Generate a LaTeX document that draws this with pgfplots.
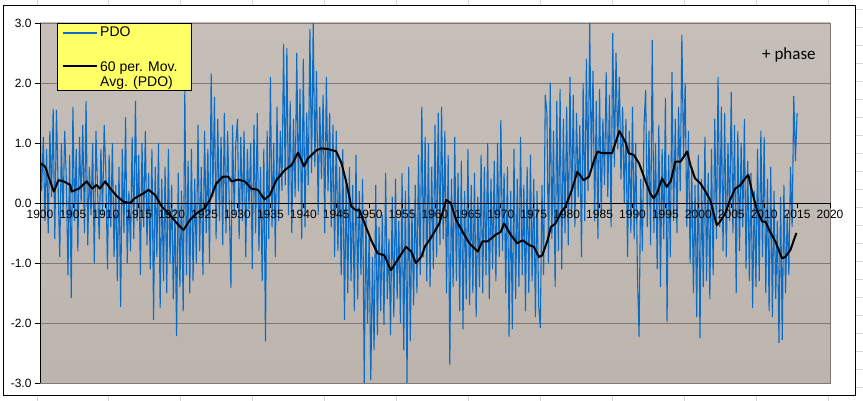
\documentclass[border=0pt]{standalone}
\usepackage{pgfplots}
\pgfplotsset{compat=1.18}
\usepackage{pgfplotstable}
\usepackage{fontspec}
\setmainfont{Liberation Sans}
\newfontfamily\calibri{Carlito}

\definecolor{pdoblue}{RGB}{10,108,196}
\definecolor{bgtop}{RGB}{198,191,185}
\definecolor{bgbot}{RGB}{188,180,173}
\definecolor{gridgray}{RGB}{128,122,117}
\definecolor{cellgray}{RGB}{215,215,215}
\definecolor{legyellow}{RGB}{255,255,102}

% PDO, one value per quarter from 1900.0 (four per line = one year)
\pgfplotstableread[row sep=\\]{
v\\
1.3\\ 0.2\\ 1.1\\ -0.3\\
0.9\\ -0.5\\ 1.2\\ 0.1\\
1.57\\ -0.6\\ 1.55\\ 0.3\\
-0.9\\ 1.0\\ -0.2\\ 1.2\\
0.4\\ -1.2\\ 0.8\\ -1.58\\
1.6\\ -0.3\\ 0.9\\ -0.8\\
1.1\\ 0.0\\ 1.3\\ -0.5\\
1.7\\ -0.7\\ 0.6\\ -0.2\\
1.0\\ -1.0\\ 1.2\\ 0.2\\
-0.6\\ 0.9\\ -0.2\\ 1.3\\
0.5\\ -1.1\\ 0.8\\ -0.4\\
1.0\\ -0.9\\ 0.3\\ -1.3\\
0.6\\ -1.73\\ 0.9\\ -0.5\\
1.43\\ -1.0\\ 0.2\\ -0.8\\
1.1\\ -0.6\\ 1.7\\ -0.3\\
0.8\\ -1.2\\ 1.0\\ -0.4\\
1.2\\ -0.7\\ 0.5\\ -1.1\\
0.9\\ -1.95\\ 0.6\\ -0.9\\
1.0\\ -1.75\\ 0.4\\ -1.3\\
0.6\\ -1.5\\ 0.9\\ -1.0\\
0.3\\ -1.6\\ -0.1\\ -2.22\\
0.5\\ -1.4\\ 0.2\\ -1.8\\
1.88\\ -1.2\\ 0.7\\ -1.5\\
0.9\\ -1.3\\ 0.4\\ -1.0\\
1.3\\ -0.8\\ 0.6\\ -1.2\\
1.2\\ -0.5\\ 0.9\\ -1.0\\
2.16\\ 0.1\\ 1.77\\ -0.6\\
1.4\\ -0.3\\ 1.1\\ -0.7\\
1.5\\ -0.5\\ 1.2\\ 0.0\\
-1.42\\ 1.3\\ -0.2\\ 1.0\\
1.4\\ -0.6\\ 1.1\\ -0.3\\
1.2\\ -0.9\\ 0.9\\ -0.1\\
1.0\\ -1.1\\ 1.3\\ -0.5\\
1.5\\ -0.8\\ 0.6\\ -1.3\\
0.9\\ -2.3\\ 1.2\\ -0.6\\
2.1\\ -0.4\\ 1.0\\ -0.9\\
1.6\\ -0.3\\ 1.2\\ 0.2\\
2.65\\ 0.3\\ 2.58\\ -0.2\\
1.7\\ -0.5\\ 1.4\\ 0.1\\
2.5\\ 0.2\\ 1.9\\ -0.6\\
2.4\\ -0.4\\ 1.5\\ 0.3\\
2.9\\ 0.5\\ 3.0\\ 0.6\\
2.2\\ -0.2\\ 1.6\\ 0.4\\
1.8\\ -0.5\\ 2.1\\ 0.2\\
1.5\\ -0.4\\ 1.3\\ -0.9\\
1.2\\ -0.8\\ 0.6\\ -1.2\\
0.9\\ -1.95\\ 0.4\\ -1.5\\
0.6\\ -1.3\\ 0.3\\ -1.8\\
0.8\\ -1.6\\ 0.2\\ -1.2\\
0.4\\ -3.0\\ -0.2\\ -2.0\\
-0.5\\ -2.95\\ -0.9\\ -2.45\\
0.3\\ -2.2\\ -0.4\\ -1.8\\
-0.2\\ -2.03\\ 0.5\\ -1.6\\
-0.6\\ -2.2\\ 0.1\\ -1.9\\
0.4\\ -1.6\\ -0.3\\ -2.0\\
0.5\\ -2.45\\ 0.2\\ -3.0\\
0.6\\ -2.3\\ -0.1\\ -1.7\\
0.3\\ -1.5\\ 0.8\\ -1.2\\
1.6\\ -0.9\\ 1.1\\ -1.3\\
1.0\\ -1.4\\ 0.6\\ -1.1\\
1.3\\ -0.9\\ 1.5\\ -0.7\\
1.6\\ -0.6\\ 1.2\\ -1.5\\
0.8\\ -2.7\\ 0.4\\ -1.4\\
1.1\\ -1.3\\ 0.5\\ -1.8\\
0.7\\ -2.1\\ 0.2\\ -1.6\\
0.9\\ -1.7\\ 0.3\\ -1.5\\
0.5\\ -1.9\\ 0.1\\ -1.4\\
0.8\\ -1.5\\ 0.6\\ -1.2\\
1.0\\ -1.6\\ 0.4\\ -1.1\\
0.7\\ -1.3\\ 1.0\\ -0.9\\
1.38\\ -0.8\\ 0.5\\ -1.5\\
0.6\\ -2.23\\ 0.2\\ -2.1\\
0.9\\ -1.6\\ 0.4\\ -1.4\\
1.1\\ -1.2\\ 0.3\\ -1.8\\
0.6\\ -1.5\\ 0.8\\ -1.3\\
0.4\\ -1.9\\ 0.2\\ -1.7\\
-2.08\\ 0.3\\ -1.2\\ 1.8\\
1.5\\ -1.0\\ 2.0\\ -0.6\\
1.2\\ -1.4\\ 1.7\\ -0.8\\
1.9\\ -1.1\\ 1.4\\ -0.5\\
1.6\\ -0.7\\ 2.1\\ -0.2\\
1.8\\ -0.4\\ 1.5\\ 0.1\\
1.3\\ -0.9\\ 2.0\\ -0.3\\
2.4\\ 0.2\\ 3.0\\ 0.6\\
2.2\\ -0.3\\ 1.7\\ -0.6\\
1.9\\ -0.2\\ 1.4\\ 0.3\\
2.18\\ 0.1\\ 1.8\\ -0.4\\
2.83\\ 0.6\\ 2.5\\ 0.9\\
2.1\\ 0.4\\ 1.6\\ 0.0\\
1.4\\ -0.9\\ 1.2\\ -0.5\\
1.6\\ -0.6\\ 1.0\\ -1.2\\
-2.23\\ 0.4\\ -0.8\\ 1.3\\
1.88\\ -0.4\\ 1.2\\ -0.7\\
2.72\\ -0.5\\ 1.0\\ -1.1\\
1.3\\ -1.4\\ 0.9\\ -0.6\\
1.75\\ -1.98\\ 0.8\\ -0.9\\
2.18\\ -0.3\\ 1.4\\ -0.5\\
1.6\\ 0.2\\ 2.8\\ 0.8\\
2.0\\ -0.4\\ 1.2\\ -1.0\\
0.6\\ -1.5\\ 0.3\\ -1.9\\
0.8\\ -2.25\\ 0.4\\ -1.4\\
1.1\\ -1.3\\ 0.5\\ -1.6\\
0.9\\ -1.2\\ 1.4\\ -0.6\\
2.1\\ -0.4\\ 1.6\\ -0.8\\
1.5\\ -0.9\\ 1.0\\ -0.3\\
1.85\\ -0.5\\ 1.3\\ -1.5\\
1.2\\ -0.8\\ 1.0\\ -0.4\\
1.4\\ -1.1\\ 0.7\\ -1.3\\
0.5\\ -1.75\\ 0.2\\ -1.4\\
0.9\\ -1.3\\ 1.2\\ -0.9\\
1.1\\ -1.5\\ 0.4\\ -1.8\\
0.6\\ -1.9\\ 0.2\\ -1.6\\
-0.3\\ -2.33\\ 0.1\\ -2.28\\
0.3\\ -1.5\\ -0.2\\ -1.2\\
0.6\\ -0.4\\ 1.78\\ 0.7\\
1.5\\
}\pdodata

\begin{document}
\begin{tikzpicture}
\path[use as bounding box, fill=white] (0pt,0pt) rectangle (863pt,401pt);
% spreadsheet cells behind the chart
\foreach \xx in {37,108,180,252,324,396,468,540,612,684,756,828} {
  \draw[cellgray, line width=0.6pt] (\xx pt,0pt) -- (\xx pt,6pt);
  \draw[cellgray, line width=0.6pt] (\xx pt,396pt) -- (\xx pt,401pt);
}
\foreach \yy in {14,32,50,68,86,104,122,140,158,176,194,212,230,248,266,284,302,320,338,356,374,392} {
  \draw[cellgray, line width=0.6pt] (855pt,\yy pt) -- (863pt,\yy pt);
}
\draw[black, line width=0.8pt] (3pt,6pt) rectangle (855pt,396pt);

\begin{axis}[
  at={(40pt,18pt)}, anchor=south west,
  scale only axis, width=790pt, height=360pt,
  xmin=1900, xmax=2020, ymin=-3, ymax=3,
  axis on top,
  axis x line=middle, axis y line=left,
  axis line style={-, black, line width=0.8pt},
  every inner x axis line/.append style={-},
  every outer y axis line/.append style={-},
  hide obscured x ticks=false, hide obscured y ticks=false,
  xtick={1900,1905,...,2020}, ytick={-3,-2,...,3},
  minor tick num=0,
  tick align=outside, major tick length=5pt,
  tick style={black, line width=0.7pt},
  axis background/.style={top color=bgtop, bottom color=bgbot, draw=gridgray},
  /pgf/number format/assume math mode=true,
  /pgf/number format/1000 sep={},
  xticklabel style={font={\fontsize{12}{14}\selectfont}, inner sep=2pt},
  yticklabel style={font={\fontsize{12}{14}\selectfont},
    /pgf/number format/fixed, /pgf/number format/fixed zerofill,
    /pgf/number format/precision=1},
]
% horizontal gridlines, drawn before the series
\foreach \g in {-3,-2,-1,1,2,3} {
  \edef\tmp{\noexpand\draw[gridgray, line width=0.7pt] (axis cs:1900,\g) -- (axis cs:2020,\g);}
  \tmp
}

\addplot[pdoblue, line width=1.1pt] table[x expr={1900+\coordindex/4}, y=v] {\pdodata};

\addplot[black, line width=2pt, line join=round] coordinates {
(1900.2,0.66) (1900.8,0.60) (1901.3,0.44) (1902.1,0.19) (1902.8,0.38)
(1903.6,0.36) (1904.6,0.30) (1904.8,0.19) (1905.9,0.24) (1907.1,0.36)
(1907.9,0.24) (1908.6,0.30) (1909.1,0.24) (1909.9,0.36) (1910.7,0.24)
(1911.7,0.11) (1912.7,0.02) (1913.7,0.00) (1914.4,0.08) (1915.7,0.16)
(1916.5,0.22) (1917.5,0.13) (1918.5,-0.06) (1919.5,-0.17) (1920.8,-0.34)
(1921.8,-0.45) (1922.8,-0.28) (1923.8,-0.17) (1925.0,-0.09) (1925.8,0.05)
(1926.8,0.33) (1927.8,0.44) (1928.6,0.44) (1929.1,0.36) (1930.1,0.39)
(1931.1,0.36) (1932.1,0.24) (1933.1,0.22) (1934.1,0.06) (1934.9,0.13)
(1935.9,0.38) (1937.2,0.55) (1938.2,0.63) (1939.2,0.84) (1940.1,0.61)
(1940.7,0.74) (1942.0,0.88) (1942.7,0.91) (1943.7,0.90) (1945.0,0.86)
(1945.8,0.66) (1946.5,0.36) (1947.3,-0.06) (1948.0,-0.12) (1948.5,-0.11)
(1949.3,-0.34) (1950.3,-0.62) (1951.3,-0.84) (1952.3,-0.87) (1953.3,-1.12)
(1954.3,-0.95) (1955.6,-0.73) (1956.4,-0.81) (1957.1,-1.00) (1957.9,-0.90)
(1958.5,-0.72) (1959.5,-0.56) (1960.65,-0.34) (1961.7,0.05) (1962.4,0.00)
(1963.2,-0.28) (1964.2,-0.48) (1965.2,-0.67) (1966.5,-0.81) (1967.2,-0.64)
(1968.0,-0.64) (1969.2,-0.53) (1970.0,-0.48) (1970.5,-0.34) (1971.5,-0.53)
(1972.5,-0.67) (1973.3,-0.62) (1974.3,-0.70) (1975.0,-0.73) (1975.8,-0.90)
(1976.3,-0.87) (1977.1,-0.62) (1977.6,-0.40) (1978.3,-0.34) (1979.1,-0.17)
(1979.8,-0.06) (1980.8,0.22) (1981.6,0.52) (1982.6,0.38) (1983.4,0.44)
(1984.1,0.69) (1984.7,0.86) (1985.4,0.83) (1986.9,0.83) (1988.0,1.20)
(1989.0,1.00) (1989.4,0.83) (1990.2,0.80) (1991.0,0.66) (1992.0,0.36)
(1992.7,0.16) (1993.2,0.08) (1993.7,0.16) (1994.5,0.41) (1995.2,0.27)
(1995.8,0.36) (1996.5,0.69) (1997.3,0.69) (1998.3,0.86) (1998.8,0.63)
(1999.5,0.41) (2000.3,0.33) (2001.1,0.19) (2001.8,0.05) (2002.8,-0.37)
(2003.3,-0.31) (2004.1,-0.17) (2004.8,0.05) (2005.6,0.24) (2006.4,0.30)
(2007.1,0.41) (2007.6,0.47) (2008.1,0.22) (2008.9,-0.12) (2009.7,-0.31)
(2010.2,-0.31) (2010.9,-0.48) (2011.7,-0.64) (2012.7,-0.92) (2013.2,-0.90)
(2014.0,-0.78) (2014.5,-0.62) (2014.9,-0.50)
};
\end{axis}

% legend box
\draw[fill=legyellow, draw=black, line width=0.6pt] (57pt,311pt) rectangle (191pt,378pt);
\draw[pdoblue, line width=1.1pt] (63pt,368pt) -- (97pt,368pt);
\node[anchor=base west, inner sep=0pt, font={\fontsize{14}{16}\selectfont}] at (100pt,364pt) {PDO};
\draw[black, line width=2pt] (63pt,335pt) -- (97pt,335pt);
\node[anchor=base west, inner sep=0pt, font={\fontsize{14}{16}\selectfont}] at (100pt,329pt) {60 per. Mov.};
\node[anchor=base west, inner sep=0pt, font={\fontsize{14}{16}\selectfont}] at (100pt,314pt) {Avg. (PDO)};

\node[anchor=base west, inner sep=0pt, font={\calibri\fontsize{17}{20}\selectfont}] at (762pt,341pt) {+ phase};
\end{tikzpicture}
\end{document}
